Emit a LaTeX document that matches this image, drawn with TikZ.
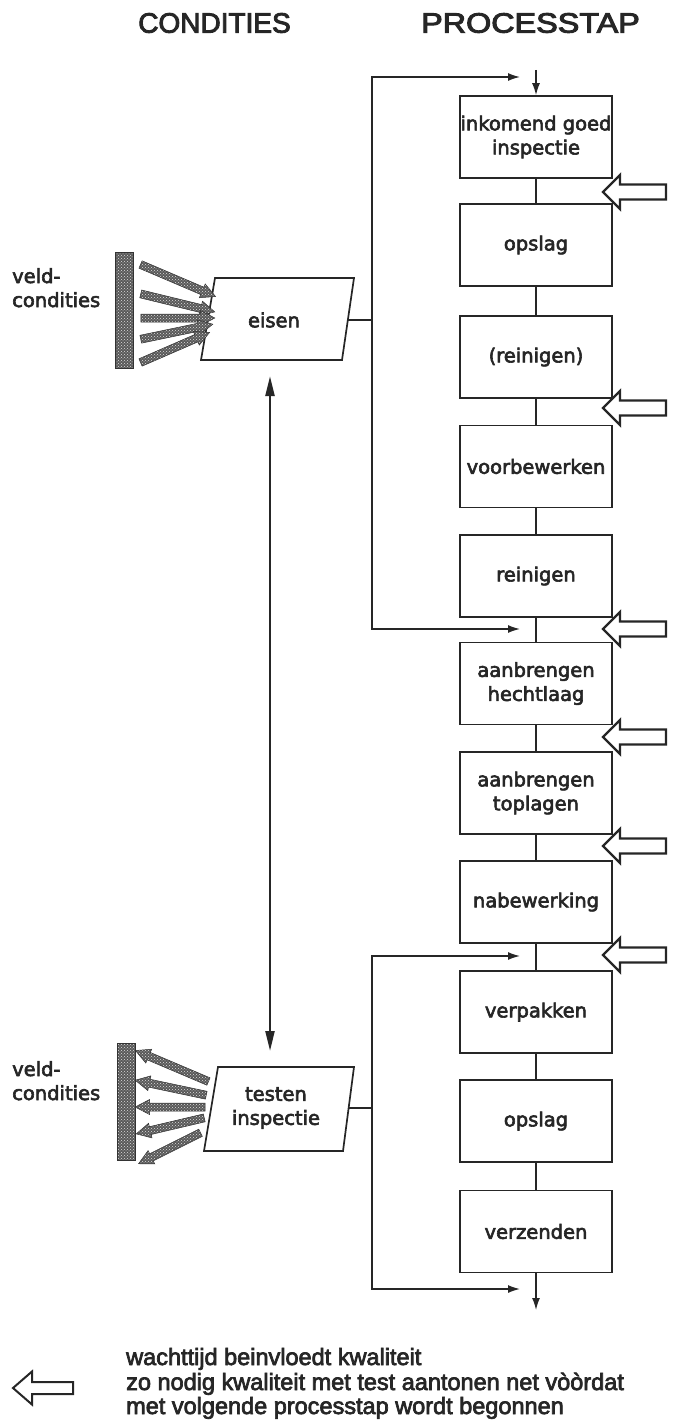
\documentclass[tikz,border=0pt]{standalone}
\usepackage{fontspec}
\setmainfont{Liberation Sans}
\newfontfamily\boxfont{DejaVu Sans}
\usetikzlibrary{arrows.meta,calc,shapes.arrows,patterns}

\definecolor{ink}{HTML}{262626}

% slightly heavier text: fill and stroke the glyph outlines
\newcommand\heavy[2]{\special{pdf:literal direct 2 Tr #1 w}#2\special{pdf:literal direct 0 Tr}}

% fat hatched arrow between two points
\newcommand\fatarrow[3]{%
  \path let \p1=($(#2)-(#1)$), \n1={atan2(\y1,\x1)}, \n2={veclen(\x1,\y1)} in
    node[fat, rotate=\n1, minimum height=\n2] (#3) at ($(#1)!0.5!(#2)$) {};}

\begin{document}
\begin{tikzpicture}[x=1pt,y=-1pt,
  stepbox/.style={draw=ink, line width=1.7pt, minimum width=152pt, minimum height=82pt,
    inner sep=0pt, align=center, text=ink, font=\boxfont\fontsize{19.5}{24}\selectfont},
  lbl/.style={text=ink, align=center, inner sep=0pt, font=\boxfont\fontsize{19.5}{24}\selectfont},
  para/.style={draw=ink, line width=1.7pt, line join=miter},
  flow/.style={draw=ink, line width=1.4pt},
  tip/.style={-{Latex[length=12pt,width=8pt]}},
  wait/.style={draw=ink, line width=2.4pt, fill=white, line join=miter},
  bar/.style={draw=black!80, line width=0.5pt, preaction={fill=black!65},
    pattern=crosshatch dots, pattern color=gray!25, inner sep=0pt, minimum width=18pt},
  fat/.style={single arrow, draw=black!80, line width=0.5pt, preaction={fill=black!65},
    pattern=crosshatch dots, pattern color=gray!25, text width=0pt,
    text height=3.75pt, text depth=3.75pt, inner sep=0pt,
    single arrow head extend=3.5pt, single arrow tip angle=55, anchor=center},
  title/.style={text=ink, inner sep=0pt, font=\fontsize{28}{32}\selectfont},
  legend/.style={text=ink, inner sep=0pt, anchor=base west, font=\fontsize{23.5}{25}\selectfont}
]
\useasboundingbox (0,0) rectangle (679,1421);

% column headings
\node[title] (hc) at (214.5,23) {\heavy{0.9}{CONDITIES}};
\node[title] (hp) at (530.5,23) {\scalebox{1.155}[1]{\heavy{0.9}{PROCESSTAP}}};

% process steps
\node[stepbox] (s1)  at (536,137)   {\heavy{0.6}{inkomend goed}\\\heavy{0.6}{inspectie}};
\node[stepbox] (s2)  at (536,245)   {\heavy{0.6}{opslag}};
\node[stepbox] (s3)  at (536,357)   {\heavy{0.6}{(reinigen)}};
\node[stepbox] (s4)  at (536,466.5) {\heavy{0.6}{voorbewerken}};
\node[stepbox] (s5)  at (536,576)   {\heavy{0.6}{reinigen}};
\node[stepbox] (s6)  at (536,683.5) {\heavy{0.6}{aanbrengen}\\\heavy{0.6}{hechtlaag}};
\node[stepbox] (s7)  at (536,793)   {\heavy{0.6}{aanbrengen}\\\heavy{0.6}{toplagen}};
\node[stepbox] (s8)  at (536,902)   {\heavy{0.6}{nabewerking}};
\node[stepbox] (s9)  at (536,1012)  {\heavy{0.6}{verpakken}};
\node[stepbox] (s10) at (536,1121)  {\heavy{0.6}{opslag}};
\node[stepbox] (s11) at (536,1231.5){\heavy{0.6}{verzenden}};

\coordinate (in)  at (536,70);
\coordinate (out) at (536,1310);
\draw[flow,tip] (in) -- (s1);
\foreach \a/\b in {s1/s2,s2/s3,s3/s4,s4/s5,s5/s6,s6/s7,s7/s8,s8/s9,s9/s10,s10/s11}
  \draw[flow] (\a) -- (\b);
\draw[flow,tip] (s11) -- (out);

% waiting-time arrows
\foreach \y [count=\i] in {192,408,629,737,846,955}
  \draw[wait] (603,\y) coordinate (w\i) -- (620,\y-17) -- (620,\y-7.5) -- (666,\y-7.5)
    -- (666,\y+7.5) -- (620,\y+7.5) -- (620,\y+17) -- cycle;

% requirements
\draw[para] (215,278) -- (354,278) -- (342,360) -- (201,360) -- cycle;
\node[lbl] (eisen) at (274,320) {\heavy{0.6}{eisen}};
\coordinate (eisenR) at (348,320);
\coordinate (ea) at (372,320);
\coordinate (t1) at (520,77);
\coordinate (t2) at (520,629);
\draw[flow] (eisenR) -- (ea);
\draw[flow,tip] (ea) |- (t1);
\draw[flow,tip] (ea) |- (t2);

% testing / inspection
\draw[para] (218,1067) -- (354,1067) -- (343,1151) -- (204,1151) -- cycle;
\node[lbl] (test) at (276,1108) {\heavy{0.6}{testen}\\\heavy{0.6}{inspectie}};
\coordinate (testR) at (349,1108);
\coordinate (tb) at (372,1108);
\coordinate (t3) at (520,956);
\coordinate (t4) at (520,1289);
\draw[flow] (testR) -- (tb);
\draw[flow,tip] (tb) |- (t3);
\draw[flow,tip] (tb) |- (t4);

% link between requirements and testing
\coordinate (dA) at (270,376);
\coordinate (dB) at (270,1051);
\draw[ink, line width=2.4pt, {Triangle[length=20pt,width=9pt]}-{Triangle[length=20pt,width=9pt]}] (dA) -- (dB);

% field conditions
\node[bar, minimum height=116pt] (bar1) at (124,310) {};
\node[bar, minimum height=117pt] (bar2) at (126,1101.5) {};
\node[lbl, align=left, anchor=base west] (v1) at (12,307) {\heavy{0.6}{veld-}\\\heavy{0.6}{condities}};
\node[lbl, align=left, anchor=base west] (v2) at (12,1100) {\heavy{0.6}{veld-}\\\heavy{0.6}{condities}};

\foreach \ax/\ay/\bx/\by [count=\i] in
  {137/263/212/295, 137/293/211/311, 137/318/211/318, 137/340/209/325, 137/364/206/334}
  {\fatarrow{\ax,\ay}{\bx,\by}{fi\i}}
\foreach \ax/\ay/\bx/\by [count=\i] in
  {212/1083/139/1052, 210/1096/139/1081, 209/1107/139/1107, 208/1117/140/1133, 204/1131/142/1162}
  {\fatarrow{\ax,\ay}{\bx,\by}{fo\i}}

% legend
\draw[ink, line width=2pt, line join=miter, fill=white] (13,1388) coordinate (lw) -- (32,1371.5) -- (32,1382)
  -- (73,1382) -- (73,1394) -- (32,1394) -- (32,1404.5) -- cycle;
\node[legend] (l1) at (126,1365) {\heavy{0.7}{wachttijd beinvloedt kwaliteit}};
\node[legend] (l2) at (126,1390) {\heavy{0.7}{zo nodig kwaliteit met test aantonen net vòòrdat}};
\node[legend] (l3) at (126,1414) {\heavy{0.7}{met volgende processtap wordt begonnen}};
\end{tikzpicture}
\end{document}
